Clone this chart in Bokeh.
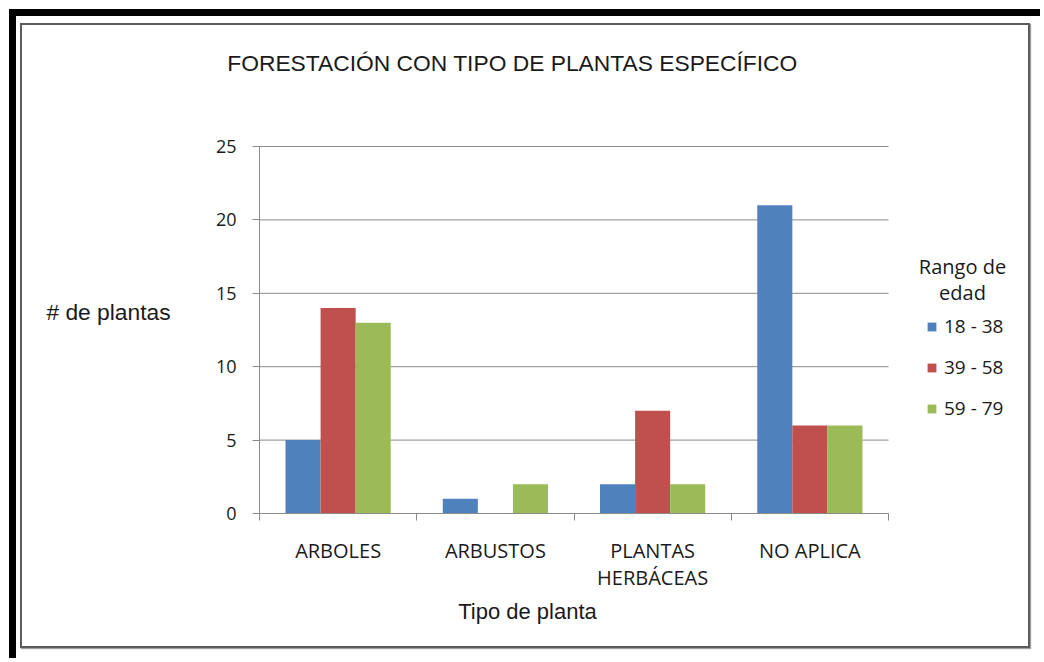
import numpy as np
from bokeh.plotting import figure
from bokeh.layouts import column
from bokeh.models import (Range1d, FixedTicker, Label, Legend, LegendItem,
                          LinearAxis, Grid)
from bokeh.embed import file_html
from bokeh.resources import INLINE

# ---------------- data ----------------
categories = ["ARBOLES", "ARBUSTOS", "PLANTAS\nHERBÁCEAS", "NO APLICA"]
series_names = ["18 - 38", "39 - 58", "59 - 79"]
s_18_38 = [5, 1, 2, 21]
s_39_58 = [14, 0, 7, 6]
s_59_79 = [13, 2, 2, 6]
y_ticks = [0, 5, 10, 15, 20, 25]
title_text = "FORESTACIÓN CON TIPO DE PLANTAS ESPECÍFICO"
x_title = "Tipo de planta"
y_title = "# de plantas"
legend_title = ["Rango de", "edad"]

# ---------------- style / geometry ----------------
colors = ["#4F81BD", "#C0504D", "#9BBB59"]
grid_col = "#8a8a8a"
txt_col = "#1a1a1a"
W, H = 1010, 625                 # canvas (inside the grey box)
X0, Y0 = 237, 488                # pixel position of the data origin on the canvas
PX_X, PX_Y = 629 / 4, 367 / 25   # pixels per data unit
n_cat = len(categories)
y_max = y_ticks[-1]

p = figure(width=W, height=H, output_backend="svg", toolbar_location=None,
           x_range=Range1d(-X0 / PX_X, (W - X0) / PX_X),
           y_range=Range1d(-(H - Y0) / PX_Y, Y0 / PX_Y),
           x_axis_location=None, y_axis_location=None,
           min_border=0)
p.outline_line_color = None
p.background_fill_color = "white"
p.border_fill_color = "white"
p.center = [r for r in p.center if not isinstance(r, Grid)]

centers = np.arange(n_cat) + 0.5
bar_w = 0.223
offsets = [-bar_w, 0.0, bar_w]

# horizontal grid lines across the category area
p.segment(x0=0, x1=n_cat, y0=y_ticks, y1=y_ticks, line_color=grid_col, line_width=1)

renderers = []
for vals, col, off in zip([s_18_38, s_39_58, s_59_79], colors, offsets):
    r = p.vbar(x=centers + off, top=vals, bottom=0, width=bar_w,
               fill_color=col, line_color=None)
    renderers.append(r)

# axes (fixed at the data origin)
yaxis = LinearAxis(ticker=FixedTicker(ticks=y_ticks), fixed_location=0, bounds=(0, y_max))
yaxis.axis_line_color = grid_col
yaxis.major_tick_line_color = grid_col
yaxis.major_tick_out = 7
yaxis.major_tick_in = 0
yaxis.minor_tick_line_color = None
yaxis.major_label_standoff = 16
yaxis.major_label_text_font = "Open Sans"
yaxis.major_label_text_font_size = "18px"
yaxis.major_label_text_color = txt_col
p.add_layout(yaxis, "left")

xaxis = LinearAxis(ticker=FixedTicker(ticks=list(centers), minor_ticks=list(range(n_cat + 1))),
                   fixed_location=0, bounds=(0, n_cat))
xaxis.major_label_overrides = {float(c): lab for c, lab in zip(centers, categories)}
xaxis.axis_line_color = grid_col
xaxis.major_tick_line_color = None
xaxis.major_tick_out = 0
xaxis.major_tick_in = 0
xaxis.minor_tick_line_color = grid_col
xaxis.minor_tick_out = 7
xaxis.minor_tick_in = 0
xaxis.major_label_standoff = 16
xaxis.major_label_text_font = "Open Sans"
xaxis.major_label_text_font_size = "20px"
xaxis.major_label_text_color = txt_col
xaxis.major_label_text_line_height = 1.0
p.add_layout(xaxis, "below")

# legend (location in canvas pixels from bottom-left)
legend = Legend(items=[LegendItem(label=n, renderers=[r]) for n, r in zip(series_names, renderers)],
                location=(904, 229), orientation="vertical", padding=0, margin=0,
                border_line_color=None, background_fill_alpha=0,
                glyph_width=11, glyph_height=11, label_height=20, spacing=15,
                label_standoff=7, label_text_font="Open Sans", label_text_font_size="19px",
                label_text_color=txt_col)
p.add_layout(legend, "center")

# texts (screen units: canvas pixels from bottom-left)
def add_text(x, y, text, font, size):
    p.add_layout(Label(x=x, y=y, x_units="screen", y_units="screen", text=text,
                       text_align="center", text_baseline="middle", text_font=font,
                       text_font_size=size, text_color=txt_col))

add_text(490, H - 37, title_text, "Liberation Sans", "22.8px")
add_text(86, H - 286, y_title, "Liberation Sans", "22.8px")
add_text(505, H - 586, x_title, "Liberation Sans", "22px")
add_text(940, H - 241, legend_title[0], "Open Sans", "20px")
add_text(940, H - 267, legend_title[1], "Open Sans", "20px")

# frames: grey inner box on the figure, black top/left band on the wrapper
p.styles = {"border": "2px solid #5c5c5c", "box-shadow": "1px 1px 1px #a0a0a0"}
layout = column(p, styles={"margin-left": "9px", "margin-top": "9px",
                           "border-top": "7px solid black", "border-left": "7px solid black",
                           "padding-top": "7px", "padding-left": "4px",
                           "padding-right": "10px", "padding-bottom": "10px"})

open("out.html", "w").write(file_html(layout, INLINE))
